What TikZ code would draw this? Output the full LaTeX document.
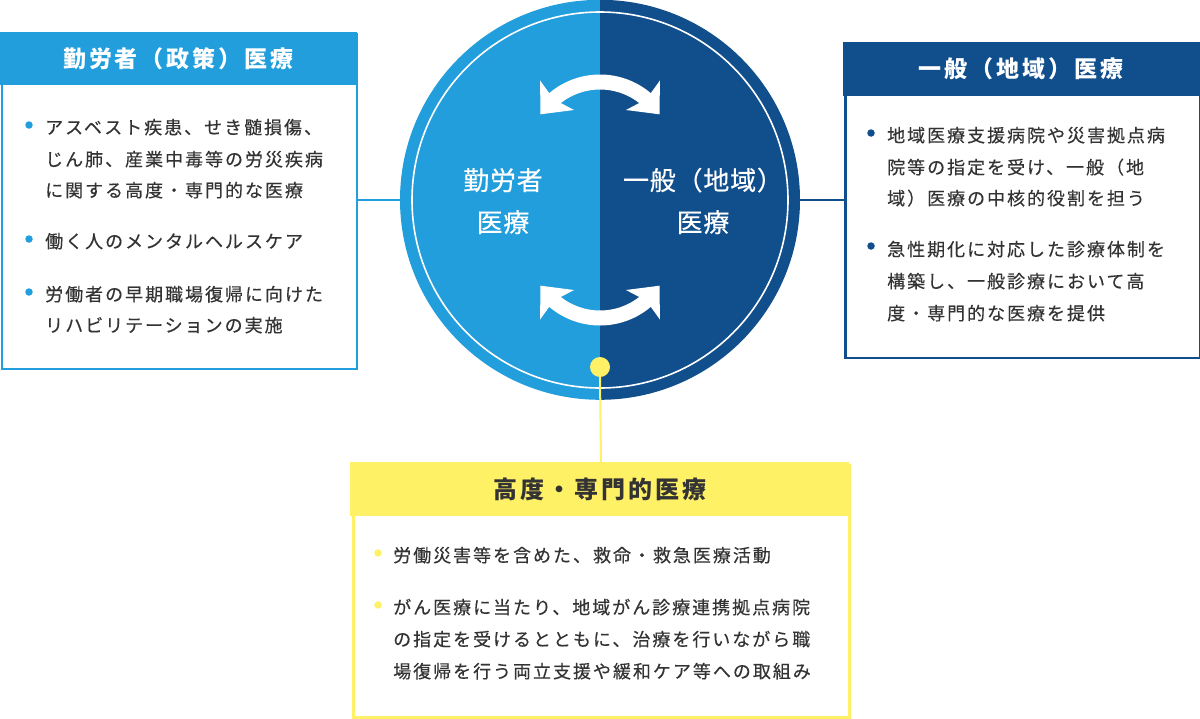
\documentclass[tikz,border=0pt]{standalone}
\usepackage{fontspec}
\setmainfont{Noto Sans CJK JP}
\newfontfamily\jpbody[LetterSpace=11,FakeBold=0.35]{Noto Sans CJK JP}
\newfontfamily\jphead[LetterSpace=13]{Noto Sans CJK JP}
\newfontfamily\jpcirc[LetterSpace=3,FakeBold=0.4]{Noto Sans CJK JP}
\usetikzlibrary{arrows.meta,bending}
\definecolor{lb}{RGB}{35,158,220}
\definecolor{db}{RGB}{16,78,140}
\definecolor{yl}{RGB}{255,241,102}
\definecolor{txt}{RGB}{51,51,51}
\tikzset{
  body/.style={anchor=base west, inner sep=0pt, text=txt, font=\jpbody\fontsize{18}{20}\selectfont},
  hd/.style={anchor=base, inner sep=0pt, font=\jphead\bfseries\fontsize{23}{25}\selectfont},
  ctext/.style={anchor=base, inner sep=0pt, text=white, font=\jpcirc\fontsize{26}{28}\selectfont},
  bul/.style={circle, inner sep=0pt, minimum size=7.5pt},
  frame/.style={rectangle, inner sep=0pt, anchor=north west},
  swap/.style={white, line width=15pt, {Stealth[length=25pt,width=44pt,inset=5pt]}-{Stealth[length=25pt,width=44pt,inset=5pt]}},
}
\begin{document}
\begin{tikzpicture}[x=1pt,y=-1pt]
\useasboundingbox (0,0) rectangle (1200,718);
% circle
\node[circle, minimum size=400pt, inner sep=0pt] (circ) at (600,200) {};
\fill[lb] (circ.center) -- (circ.north) arc[start angle=270, end angle=90, radius=200] -- cycle;
\fill[db] (circ.center) -- (circ.north) arc[start angle=270, end angle=450, radius=200] -- cycle;
\draw[white, line width=1.6pt] (circ.center) circle[radius=188];
% swap arrows
\coordinate (ta) at (600,153);
\coordinate (ba) at (600,247);
\draw[swap] ([shift={(213:71)}]ta) arc[start angle=213, end angle=327, radius=71];
\draw[swap] ([shift={(147:71)}]ba) arc[start angle=147, end angle=33, radius=71];
% circle texts
\node[ctext] (c1) at (503,190) {勤労者};
\node[ctext] (c2) at (503,232) {医療};
\node[ctext] (c3) at (703,190) {一般（地域）};
\node[ctext] (c4) at (703,232) {医療};
% left box
\node[frame, draw=lb, line width=2pt, minimum width=355pt, minimum height=335pt] (lbox) at (1,33) {};
\fill[lb] (0,32) rectangle (357,85);
\node[hd, text=white] (lh) at (178.5,67.5) {勤労者（政策）医療};
% right box
\node[frame, draw=db, line width=2.5pt, minimum width=354.5pt, minimum height=313.5pt] (rbox) at (844.25,43.25) {};
\fill[db] (843,42) rectangle (1199.5,96);
\node[hd, text=white] (rh) at (1021,77.5) {一般（地域）医療};
% bottom box
\node[frame, draw=yl, line width=3pt, minimum width=496pt, minimum height=252pt] (bbox) at (351.5,463.5) {};
\fill[yl] (350,462) rectangle (849,516);
\node[hd, text=txt, font=\jphead\bfseries\fontsize{24}{26}\selectfont] (bh) at (600,498) {高度・専門的医療};
% connectors
\draw[lb, line width=1.5pt] (lbox.east |- circ.west) -- (circ.west);
\draw[db, line width=1.5pt] (circ.east) -- (rbox.west |- circ.east);
\node[circle, fill=yl, minimum size=20pt, inner sep=0pt] (ydot) at (600,367) {};
\draw[yl, line width=2pt] (ydot.south) -- (bbox.north);
% left texts
\node[bul, fill=lb] (lb1) at (29,125) {};
\node[body] (l1) at (45,134) {アスベスト疾患、せき髄損傷、};
\node[body] (l2) at (45,166) {じん肺、産業中毒等の労災疾病};
\node[body] (l3) at (45,197) {に関する高度・専門的な医療};
\node[bul, fill=lb] (lb2) at (29,239) {};
\node[body] (l4) at (45,248) {働く人のメンタルヘルスケア};
\node[bul, fill=lb] (lb3) at (29,292) {};
\node[body] (l5) at (45,301) {労働者の早期職場復帰に向けた};
\node[body] (l6) at (45,332) {リハビリテーションの実施};
% right texts
\node[bul, fill=db] (rb1) at (871,133) {};
\node[body] (r1) at (887,142) {地域医療支援病院や災害拠点病};
\node[body] (r2) at (887,174) {院等の指定を受け、一般（地};
\node[body] (r3) at (887,205) {域）医療の中核的役割を担う};
\node[bul, fill=db] (rb2) at (871,246) {};
\node[body] (r4) at (887,256) {急性期化に対応した診療体制を};
\node[body] (r5) at (887,288) {構築し、一般診療において高};
\node[body] (r6) at (887,320) {度・専門的な医療を提供};
% bottom texts
\node[bul, fill=yl] (bb1) at (378,553) {};
\node[body] (b1) at (393,562) {労働災害等を含めた、救命・救急医療活動};
\node[bul, fill=yl] (bb2) at (378,605) {};
\node[body] (b2) at (393,614) {がん医療に当たり、地域がん診療連携拠点病院};
\node[body] (b3) at (393,646) {の指定を受けるとともに、治療を行いながら職};
\node[body] (b4) at (393,678) {場復帰を行う両立支援や緩和ケア等への取組み};
\end{tikzpicture}
\end{document}
